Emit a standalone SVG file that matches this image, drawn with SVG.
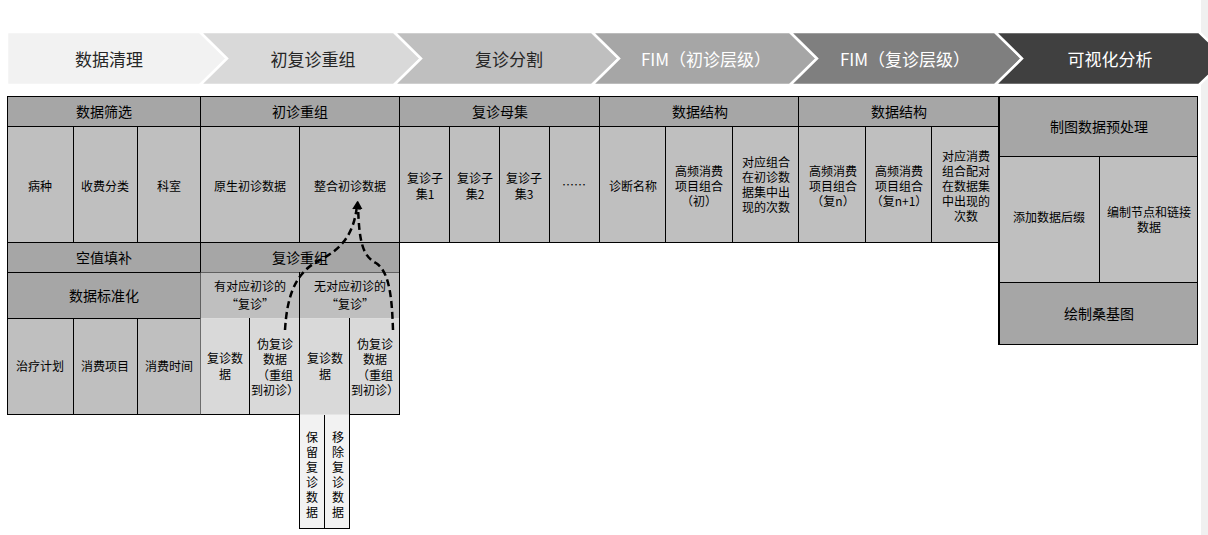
<svg xmlns="http://www.w3.org/2000/svg" width="1208" height="535" viewBox="0 0 1208 535">
<style>
text{font-family:"Noto Sans CJK SC","Liberation Sans",sans-serif;text-anchor:middle;fill:#000;dominant-baseline:central}
.b{font-size:17px}
.h{font-size:14px}
.s{font-size:12px}
.w{fill:#fff}
.d{fill:#262626}
.chev{stroke:#fff;stroke-width:2.5}
rect{stroke:#000;stroke-width:1}
.hd{fill:#a6a6a6}
.cl{fill:#bfbfbf}
.lt{fill:#d9d9d9}
.wt{fill:#f2f2f2}
.dash{fill:none;stroke:#000;stroke-width:2.5;stroke-dasharray:7 4}
</style>
<defs>
<marker id="ah" viewBox="0 0 10 10" refX="5" refY="5" markerWidth="3.5" markerHeight="4.5" orient="auto" markerUnits="strokeWidth">
<path d="M0,0 L10,5 L0,10 Z" fill="#000"/>
</marker>
</defs>
<rect x="1201" y="0" width="7" height="535" fill="#f0f0f0" style="stroke:none"/>
<g id="banner">
<g id="s1"><polygon class="chev" fill="#f2f2f2" points="7,32 200,32 227,58.5 200,85 7,85"/><text class="b d" x="109" y="58">数据清理</text></g>
<g id="s2"><polygon class="chev" fill="#d9d9d9" points="200,32 394,32 421,58.5 394,85 200,85 227,58.5"/><text class="b d" x="313" y="58">初复诊重组</text></g>
<g id="s3"><polygon class="chev" fill="#bfbfbf" points="394,32 592,32 619,58.5 592,85 394,85 421,58.5"/><text class="b d" x="509" y="58">复诊分割</text></g>
<g id="s4"><polygon class="chev" fill="#a6a6a6" points="592,32 790,32 817,58.5 790,85 592,85 619,58.5"/><text class="b w" x="706" y="58">FIM（初诊层级）</text></g>
<g id="s5"><polygon class="chev" fill="#7f7f7f" points="790,32 995,32 1022,58.5 995,85 790,85 817,58.5"/><text class="b w" x="905" y="58">FIM（复诊层级）</text></g>
<g id="s6"><polygon class="chev" fill="#404040" points="995,32 1199,32 1226,58.5 1199,85 995,85 1022,58.5"/><text class="b w" x="1110" y="58">可视化分析</text></g>
</g>
<g id="clean">
<rect class="hd" x="7.5" y="96.5" width="193" height="30"/><text class="h" x="104" y="111">数据筛选</text>
<rect class="cl" x="7.5" y="126.5" width="66" height="116"/><text class="s" x="40" y="185">病种</text>
<rect class="cl" x="73.5" y="126.5" width="64" height="116"/><text class="s" x="105" y="185">收费分类</text>
<rect class="cl" x="137.5" y="126.5" width="63" height="116"/><text class="s" x="169" y="185">科室</text>
<rect class="hd" x="7.5" y="242.5" width="193" height="30"/><text class="h" x="104" y="257">空值填补</text>
<rect class="hd" x="7.5" y="272.5" width="193" height="46"/><text class="h" x="104" y="295">数据标准化</text>
<rect class="cl" x="7.5" y="318.5" width="66" height="96"/><text class="s" x="40" y="365">治疗计划</text>
<rect class="cl" x="73.5" y="318.5" width="64" height="96"/><text class="s" x="105" y="365">消费项目</text>
<rect class="cl" x="137.5" y="318.5" width="63" height="96"/><text class="s" x="169" y="365">消费时间</text>
</g>
<g id="regroup">
<rect class="hd" x="200.5" y="96.5" width="199" height="30"/><text class="h" x="300" y="111">初诊重组</text>
<rect class="cl" x="200.5" y="126.5" width="99" height="116"/><text class="s" x="250" y="185">原生初诊数据</text>
<rect class="cl" x="299.5" y="126.5" width="100" height="116"/><text class="s" x="350" y="185">整合初诊数据</text>
<rect class="hd" x="200.5" y="242.5" width="199" height="30"/><text class="h" x="300" y="257">复诊重组</text>
<rect class="cl" x="200.5" y="272.5" width="99" height="46" style="stroke:none"/>
<rect class="cl" x="299.5" y="272.5" width="100" height="46" style="stroke:none"/>
<line x1="299.5" y1="272" x2="299.5" y2="319" stroke="#000"/>
<text class="s" x="250" y="285">有对应初诊的</text><text class="s" x="250" y="303">“复诊”</text>
<text class="s" x="350" y="285">无对应初诊的</text><text class="s" x="350" y="303">“复诊”</text>
<rect class="lt" x="200.5" y="318.5" width="49" height="96" style="stroke:none"/>
<rect class="lt" x="249.5" y="318.5" width="50" height="96" style="stroke:none"/>
<rect class="lt" x="349.5" y="318.5" width="50" height="96" style="stroke:none"/>
<rect class="lt" x="299.5" y="318.5" width="50" height="97" style="stroke:none"/>
<line x1="249.5" y1="318" x2="249.5" y2="415" stroke="#000"/>
<line x1="349.5" y1="318" x2="349.5" y2="415" stroke="#000"/>
<line x1="200.5" y1="414.5" x2="299.5" y2="414.5" stroke="#000"/>
<line x1="349.5" y1="414.5" x2="400" y2="414.5" stroke="#000"/>
<line x1="399.5" y1="242" x2="399.5" y2="415" stroke="#000"/>
<text class="s" x="225" y="357">复诊数</text><text class="s" x="225" y="373">据</text>
<text class="s" x="275" y="343">伪复诊</text><text class="s" x="275" y="358">数据</text><text class="s" x="275" y="374">（重组</text><text class="s" x="275" y="389">到初诊）</text>
<text class="s" x="325" y="357">复诊数</text><text class="s" x="325" y="373">据</text>
<text class="s" x="375" y="343">伪复诊</text><text class="s" x="375" y="358">数据</text><text class="s" x="375" y="374">（重组</text><text class="s" x="375" y="389">到初诊）</text>
<rect class="wt" x="299.5" y="414.5" width="25" height="114" style="stroke:none"/>
<rect class="wt" x="324.5" y="414.5" width="25" height="114" style="stroke:none"/>
<line x1="299.5" y1="318" x2="299.5" y2="529" stroke="#000"/>
<line x1="349.5" y1="318" x2="349.5" y2="529" stroke="#000"/>
<line x1="324.5" y1="415" x2="324.5" y2="529" stroke="#000"/>
<line x1="299" y1="528.5" x2="350" y2="528.5" stroke="#000"/>
<g class="s">
<text class="s" x="312" y="436">保</text><text class="s" x="312" y="451">留</text><text class="s" x="312" y="466">复</text><text class="s" x="312" y="481">诊</text><text class="s" x="312" y="496">数</text><text class="s" x="312" y="511">据</text>
<text class="s" x="338" y="436">移</text><text class="s" x="338" y="451">除</text><text class="s" x="338" y="466">复</text><text class="s" x="338" y="481">诊</text><text class="s" x="338" y="496">数</text><text class="s" x="338" y="511">据</text>
</g>
</g>
<g id="split">
<rect class="hd" x="399.5" y="96.5" width="200" height="30"/><text class="h" x="500" y="111">复诊母集</text>
<rect class="cl" x="399.5" y="126.5" width="50" height="116"/><text class="s" x="425" y="177">复诊子</text><text class="s" x="425" y="193">集1</text>
<rect class="cl" x="449.5" y="126.5" width="50" height="116"/><text class="s" x="475" y="177">复诊子</text><text class="s" x="475" y="193">集2</text>
<rect class="cl" x="499.5" y="126.5" width="50" height="116"/><text class="s" x="524" y="177">复诊子</text><text class="s" x="524" y="193">集3</text>
<rect class="cl" x="549.5" y="126.5" width="50" height="116"/><text class="s" x="574" y="184">……</text>
</g>
<g id="fim1">
<rect class="hd" x="599.5" y="96.5" width="199" height="30"/><text class="h" x="700" y="111">数据结构</text>
<rect class="cl" x="599.5" y="126.5" width="66" height="116"/><text class="s" x="633" y="185">诊断名称</text>
<rect class="cl" x="665.5" y="126.5" width="67" height="116"/><text class="s" x="699" y="170">高频消费</text><text class="s" x="699" y="185">项目组合</text><text class="s" x="699" y="200">（初）</text>
<rect class="cl" x="732.5" y="126.5" width="66" height="116"/><text class="s" x="766" y="161">对应组合</text><text class="s" x="766" y="176">在初诊数</text><text class="s" x="766" y="191">据集中出</text><text class="s" x="766" y="206">现的次数</text>
</g>
<g id="fim2">
<rect class="hd" x="798.5" y="96.5" width="200" height="30"/><text class="h" x="899" y="111">数据结构</text>
<rect class="cl" x="798.5" y="126.5" width="67" height="116"/><text class="s" x="833" y="170">高频消费</text><text class="s" x="833" y="185">项目组合</text><text class="s" x="833" y="200">（复n）</text>
<rect class="cl" x="865.5" y="126.5" width="66" height="116"/><text class="s" x="899" y="170">高频消费</text><text class="s" x="899" y="185">项目组合</text><text class="s" x="899" y="200">（复n+1）</text>
<rect class="cl" x="931.5" y="126.5" width="67" height="116"/><text class="s" x="966" y="155">对应消费</text><text class="s" x="966" y="170">组合配对</text><text class="s" x="966" y="185">在数据集</text><text class="s" x="966" y="200">中出现的</text><text class="s" x="966" y="215">次数</text>
</g>
<g id="viz">
<rect class="hd" x="999.5" y="96.5" width="198" height="60"/><text class="h" x="1099" y="126">制图数据预处理</text>
<rect class="cl" x="999.5" y="156.5" width="100" height="126"/><text class="s" x="1049" y="216">添加数据后缀</text>
<rect class="cl" x="1099.5" y="156.5" width="98" height="126"/><text class="s" x="1149" y="211">编制节点和链接</text><text class="s" x="1149" y="226">数据</text>
<rect class="hd" x="999.5" y="282.5" width="198" height="62"/><text class="h" x="1099" y="313">绘制桑基图</text>
<line x1="999" y1="96" x2="999" y2="345" stroke="#000" stroke-width="2"/>
</g>
<g id="connectors">
<path class="dash" d="M285,330 C287,298 294,274 318,261 C340,250 354,236 357,205" marker-end="url(#ah)"/>
<path class="dash" d="M393,330 C392,300 390,272 376,263 C362,256 359,240 358,205" marker-end="url(#ah)"/>
</g>
</svg>
